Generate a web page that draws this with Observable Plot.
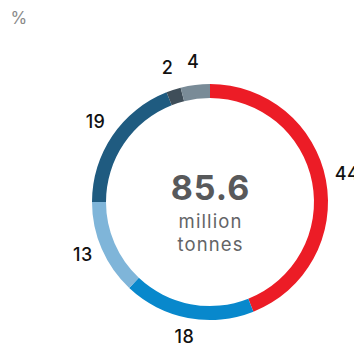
<!DOCTYPE html>
<html>
<head>
<meta charset="utf-8">
<script src="https://cdn.jsdelivr.net/npm/d3@7"></script>
<script src="https://cdn.jsdelivr.net/npm/@observablehq/plot@0.6"></script>
<style>
html,body{margin:0;padding:0;background:#fff;overflow:hidden;}
</style>
</head>
<body>
<div id="chart"></div>
<script>
const categories = ["A", "B", "C", "D", "E", "F"];
const values = [44, 18, 13, 19, 2, 4];
const labels = ["44", "18", "13", "19", "2", "4"];
const colors = ["#ec1c26", "#0888cc", "#7fb5d9", "#1f5b80", "#3f4e59", "#798b97"];
const totalLabel = "85.6";
const unitLines = ["million", "tonnes"];
const unitNote = "%";

const data = categories.map((c, i) => ({category: c, value: values[i], label: labels[i], color: colors[i]}));
const pie = d3.pie().sort(null).value(d => d.value)(data);
const outerR = 118, innerR = 104, labelR = 139;
const labelData = pie.map(p => {
  const a = (p.startAngle + p.endAngle) / 2;
  return {label: p.data.label, x: Math.sin(a) * labelR, y: Math.cos(a) * labelR};
});

function ring(index, scales, values, dims) {
  const cx = scales.x(0), cy = scales.y(0);
  const k = scales.x(1) - scales.x(0);
  const g = d3.create("svg:g").attr("transform", `translate(${cx},${cy})`);
  const arc = d3.arc().innerRadius(innerR * k).outerRadius(outerR * k);
  g.selectAll("path").data(pie).join("path")
    .attr("d", arc)
    .attr("fill", d => d.data.color);
  return g.node();
}

const chart = Plot.plot({
  width: 354,
  height: 345,
  margin: 0,
  x: {domain: [-210, 144], axis: null},
  y: {domain: [-143, 202], axis: null},
  style: {fontFamily: "Inter, sans-serif", background: "#fff"},
  marks: [
    ring,
    Plot.text(labelData, {x: "x", y: "y", dy: -2, text: "label", fontSize: 18, fill: "#111", fontWeight: 500}),
    Plot.text([totalLabel], {x: 0, y: 0, dy: -13, text: d => d, fontSize: 34, fontWeight: "bold", fill: "#58595b"}),
    Plot.text([unitLines[0]], {x: 0, y: 0, dy: 20, text: d => d, fontSize: 18.5, fill: "#636466"}),
    Plot.text([unitLines[1]], {x: 0, y: 0, dy: 43, text: d => d, fontSize: 18.5, fill: "#636466"}),
    Plot.text([unitNote], {frameAnchor: "top-left", dx: 10, dy: 11, text: d => d, fontSize: 17, fill: "#8a8a8a", textAnchor: "start"})
  ]
});
d3.select(chart).selectAll("text").each(function() {
  const t = this.textContent;
  if (t === totalLabel) this.setAttribute("letter-spacing", "1");
  else if (unitLines.includes(t)) this.setAttribute("letter-spacing", "1.1");
  else if (labels.includes(t)) this.setAttribute("letter-spacing", "0.5");
});
document.getElementById("chart").appendChild(chart);
</script>
</body>
</html>
